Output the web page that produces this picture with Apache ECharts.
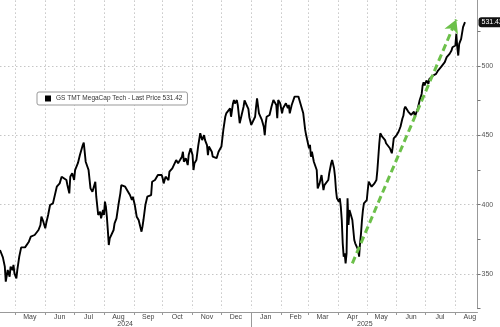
<!DOCTYPE html>
<html><head><meta charset="utf-8">
<script src="https://cdn.jsdelivr.net/npm/echarts@6/dist/echarts.min.js"></script>
<style>html,body{margin:0;padding:0;background:#fff}#c{width:500px;height:327px}</style>
</head><body><div id="c"></div>
<script>
const seriesName = 'GS TMT MegaCap Tech';
const startDate = '2024-04-15';
const endDate = '2025-08-24';
// observation day offsets counted from startDate
const dayOffsets = [0,3,5,6,8,10,11,13,14,15,17,18,20,22,26,28,30,32,34,36,38,40,42,43,45,47,48,50,52,55,57,59,62,64,66,69,70,72,73,75,77,78,81,83,85,86,87,89,91,92,94,96,98,99,100,102,104,105,107,108,109,110,111,112,113,114,116,118,119,121,123,125,126,128,130,132,133,135,137,138,140,142,144,145,147,148,149,151,153,155,157,158,161,163,164,166,168,169,170,172,175,176,179,181,183,185,187,189,190,191,193,195,196,198,200,201,202,204,206,208,209,210,212,213,215,216,217,219,220,221,223,225,227,228,230,232,234,235,237,239,240,242,243,244,246,247,249,251,253,254,256,258,259,261,263,265,266,267,269,271,272,274,275,276,277,278,280,282,284,285,287,288,289,291,292,293,294,296,297,299,300,301,303,304,306,308,310,311,313,315,317,318,319,321,322,323,324,326,327,329,330,331,332,334,336,337,339,341,342,344,345,347,348,349,350,352,353,354,355,356,357,358,359,360,361,362,363,364,365,366,367,368,369,370,372,373,374,375,376,377,378,379,380,381,382,383,384,385,386,387,389,391,392,393,394,395,396,397,398,400,401,403,405,407,408,409,411,412,414,416,418,419,420,421,423,424,426,427,429,430,431,432,434,436,438,439,440,441,443,445,446,448,450,451,453,455,457,458,460,462,464,465,467,469,470,471,473,474,475,476,477,478,479,481,483];
const prices = [367.3,362.0,355.3,344.5,352.9,348.1,355.3,352.9,356.5,350.5,346.9,352.9,362.5,369.2,369.2,369.7,373.3,376.9,375.7,378.1,379.3,381.7,385.3,391.3,387.7,382.9,386.5,392.5,399.7,400.9,402.1,412.9,415.3,420.1,420.6,417.7,414.1,408.1,420.1,422.6,417.7,424.9,430.0,435.7,437.0,442.9,444.6,430.9,429.8,424.9,411.7,409.3,408.1,416.5,405.7,392.5,394.9,390.1,396.1,392.5,402.1,398.5,391.3,381.7,370.9,375.7,374.5,381.7,386.5,390.1,399.7,408.1,414.1,415.3,412.9,411.7,409.3,406.9,403.3,405.7,399.7,391.3,388.9,390.1,380.5,384.1,388.9,399.7,405.7,404.5,406.9,416.5,417.7,418.9,421.3,420.1,421.3,418.9,415.3,420.1,417.7,423.7,426.1,427.3,432.1,429.8,432.1,434.5,438.1,430.9,433.4,428.5,435.7,440.6,435.7,424.9,429.8,432.1,442.9,451.4,448.9,446.5,450.1,446.5,442.9,435.7,441.8,441.8,438.1,434.5,435.7,433.4,438.1,438.1,441.8,453.8,463.3,465.7,465.7,469.3,463.3,472.9,475.3,472.9,475.3,471.7,458.6,464.6,470.5,475.0,474.1,469.0,463.0,457.4,458.6,463.3,470.5,476.6,465.7,464.5,461.0,456.1,450.1,458.6,463.3,462.2,464.6,470.5,475.4,476.6,471.8,462.2,475.4,473.0,471.8,465.8,469.4,468.2,473.0,469.4,471.8,465.8,471.8,473.0,477.8,479.0,477.8,475.4,475.4,465.8,453.8,450.1,451.4,440.6,443.0,434.5,438.1,430.9,432.1,424.9,411.7,412.9,415.3,421.3,410.5,414.0,415.0,417.7,422.6,429.8,432.1,426.2,420.1,410.5,404.5,402.1,404.5,398.5,388.9,372.1,362.5,364.9,357.7,364.9,404.5,385.3,396.1,393.7,393.7,388.9,381.7,374.5,372.1,370.9,367.3,362.5,372.1,379.3,388.9,396.1,400.9,399.7,400.9,403.3,410.5,416.5,417.7,415.3,412.9,412.9,415.3,417.7,424.9,434.5,444.2,451.4,450.1,448.9,447.7,446.5,444.2,442.9,440.6,437.0,441.8,447.7,448.9,450.1,452.5,456.1,462.0,464.0,469.0,470.5,469.4,467.0,468.2,464.6,465.8,467.0,463.3,464.6,469.4,475.4,479.7,485.8,488.2,485.8,489.4,487.0,490.6,489.4,493.0,491.8,494.2,496.6,495.4,499.0,500.2,502.6,506.2,505.0,508.6,511.0,513.4,512.2,514.6,523.0,513.4,507.4,515.8,517.0,519.4,527.8,531.42];
const yTickLabels = [350, 400, 450, 500];
const monthNames = ['Jan','Feb','Mar','Apr','May','Jun','Jul','Aug','Sep','Oct','Nov','Dec'];
const arrowStart = ['2025-04-16', 357.7];
const arrowEnd = ['2025-08-02', 533.3];

const categories = [];
{
  let t = new Date(startDate + 'T00:00:00Z').getTime();
  const tEnd = new Date(endDate + 'T00:00:00Z').getTime();
  while (t <= tEnd) { categories.push(new Date(t).toISOString().slice(0, 10)); t += 86400000; }
}
const lineData = new Array(categories.length).fill(null);
dayOffsets.forEach((o, i) => { lineData[o] = prices[i]; });
const lastPrice = prices[prices.length - 1];

const yearIdx = {};
categories.forEach((c, i) => {
  const y = c.slice(0, 4);
  if (!yearIdx[y]) yearIdx[y] = [i, i]; else yearIdx[y][1] = i;
});
const yearLabelSet = new Set(Object.values(yearIdx).map(r => Math.round((r[0] + r[1]) / 2)));

const isMonthStart = (i, v) => v.slice(8) === '01';
const isMidMonth = (i, v) => v.slice(8) === '16' && (v.slice(0, 8) + '01') >= startDate;

const grid = '#c6c6c6';
const chart = echarts.init(document.getElementById('c'), null, { renderer: 'canvas' });
chart.setOption({
  animation: false,
  backgroundColor: '#fff',
  textStyle: { fontFamily: 'Liberation Sans, Arial, sans-serif' },
  grid: { left: 0, right: 22.5, top: -3.6, bottom: 18.3, containLabel: false, outerBoundsMode: 'none' },
  legend: {
    data: [seriesName], left: 37, top: 92, icon: 'rect', itemWidth: 6, itemHeight: 6,
    padding: [3, 5, 3, 8], borderColor: '#999', borderWidth: 1, borderRadius: 2,
    backgroundColor: '#fff',
    formatter: n => n + ' - Last Price ' + lastPrice.toFixed(2),
    textStyle: { fontSize: 6.5, color: '#333' }
  },
  xAxis: [{
    type: 'category', data: categories, boundaryGap: false, offset: 3.3,
    axisLine: { lineStyle: { color: '#999' } },
    axisTick: { interval: isMonthStart, length: 3, lineStyle: { color: '#999' } },
    axisLabel: { interval: isMidMonth, formatter: v => monthNames[+v.slice(5, 7) - 1], fontSize: 7, color: '#444', margin: 2 },
    splitLine: { show: true, interval: isMonthStart, lineStyle: { color: grid, type: [1.5, 2.5] } }
  }, {
    type: 'category', data: categories, boundaryGap: false, position: 'bottom', offset: 3.3,
    axisLine: { show: false },
    axisTick: { show: true, interval: (i, v) => v === '2025-01-01', length: 15, lineStyle: { color: '#999' } },
    axisLabel: { interval: (i) => yearLabelSet.has(i), formatter: v => v.slice(0, 4), fontSize: 7, color: '#444', margin: 9 },
    splitLine: { show: false }
  }],
  yAxis: {
    type: 'value', position: 'right', min: 325, max: 550, interval: 25,
    axisLine: { show: true, lineStyle: { color: '#999' } },
    axisTick: { show: true, length: 3, lineStyle: { color: '#777' } },
    axisLabel: { formatter: v => yTickLabels.includes(v) ? String(v) : '', fontSize: 7, color: '#555', margin: 4 },
    splitLine: { show: true, lineStyle: { color: ['rgba(0,0,0,0)', grid], type: [1.5, 2.5] } }
  },
  series: [{
    name: seriesName, type: 'line', data: lineData, connectNulls: true,
    showSymbol: false, symbol: 'none',
    lineStyle: { color: '#000', width: 1.9 }, itemStyle: { color: '#000' },
    markLine: {
      silent: true, animation: false, symbol: ['none', 'none'],
      data: [
        { yAxis: lastPrice, lineStyle: { color: 'rgba(0,0,0,0)', width: 0 },
          label: { show: true, position: 'end', formatter: lastPrice.toFixed(2), backgroundColor: '#111', color: '#fff', borderRadius: 3, padding: [2, 3, 1, 3], fontSize: 7, distance: 1, opacity: 1 } },
        [
          { coord: arrowStart, symbol: 'none', lineStyle: { color: '#6cc04a', width: 3, type: [7, 4] }, label: { show: false } },
          { coord: arrowEnd, symbol: 'arrow', symbolSize: [11, 13] }
        ]
      ]
    }
  }]
});
</script>
</body></html>
